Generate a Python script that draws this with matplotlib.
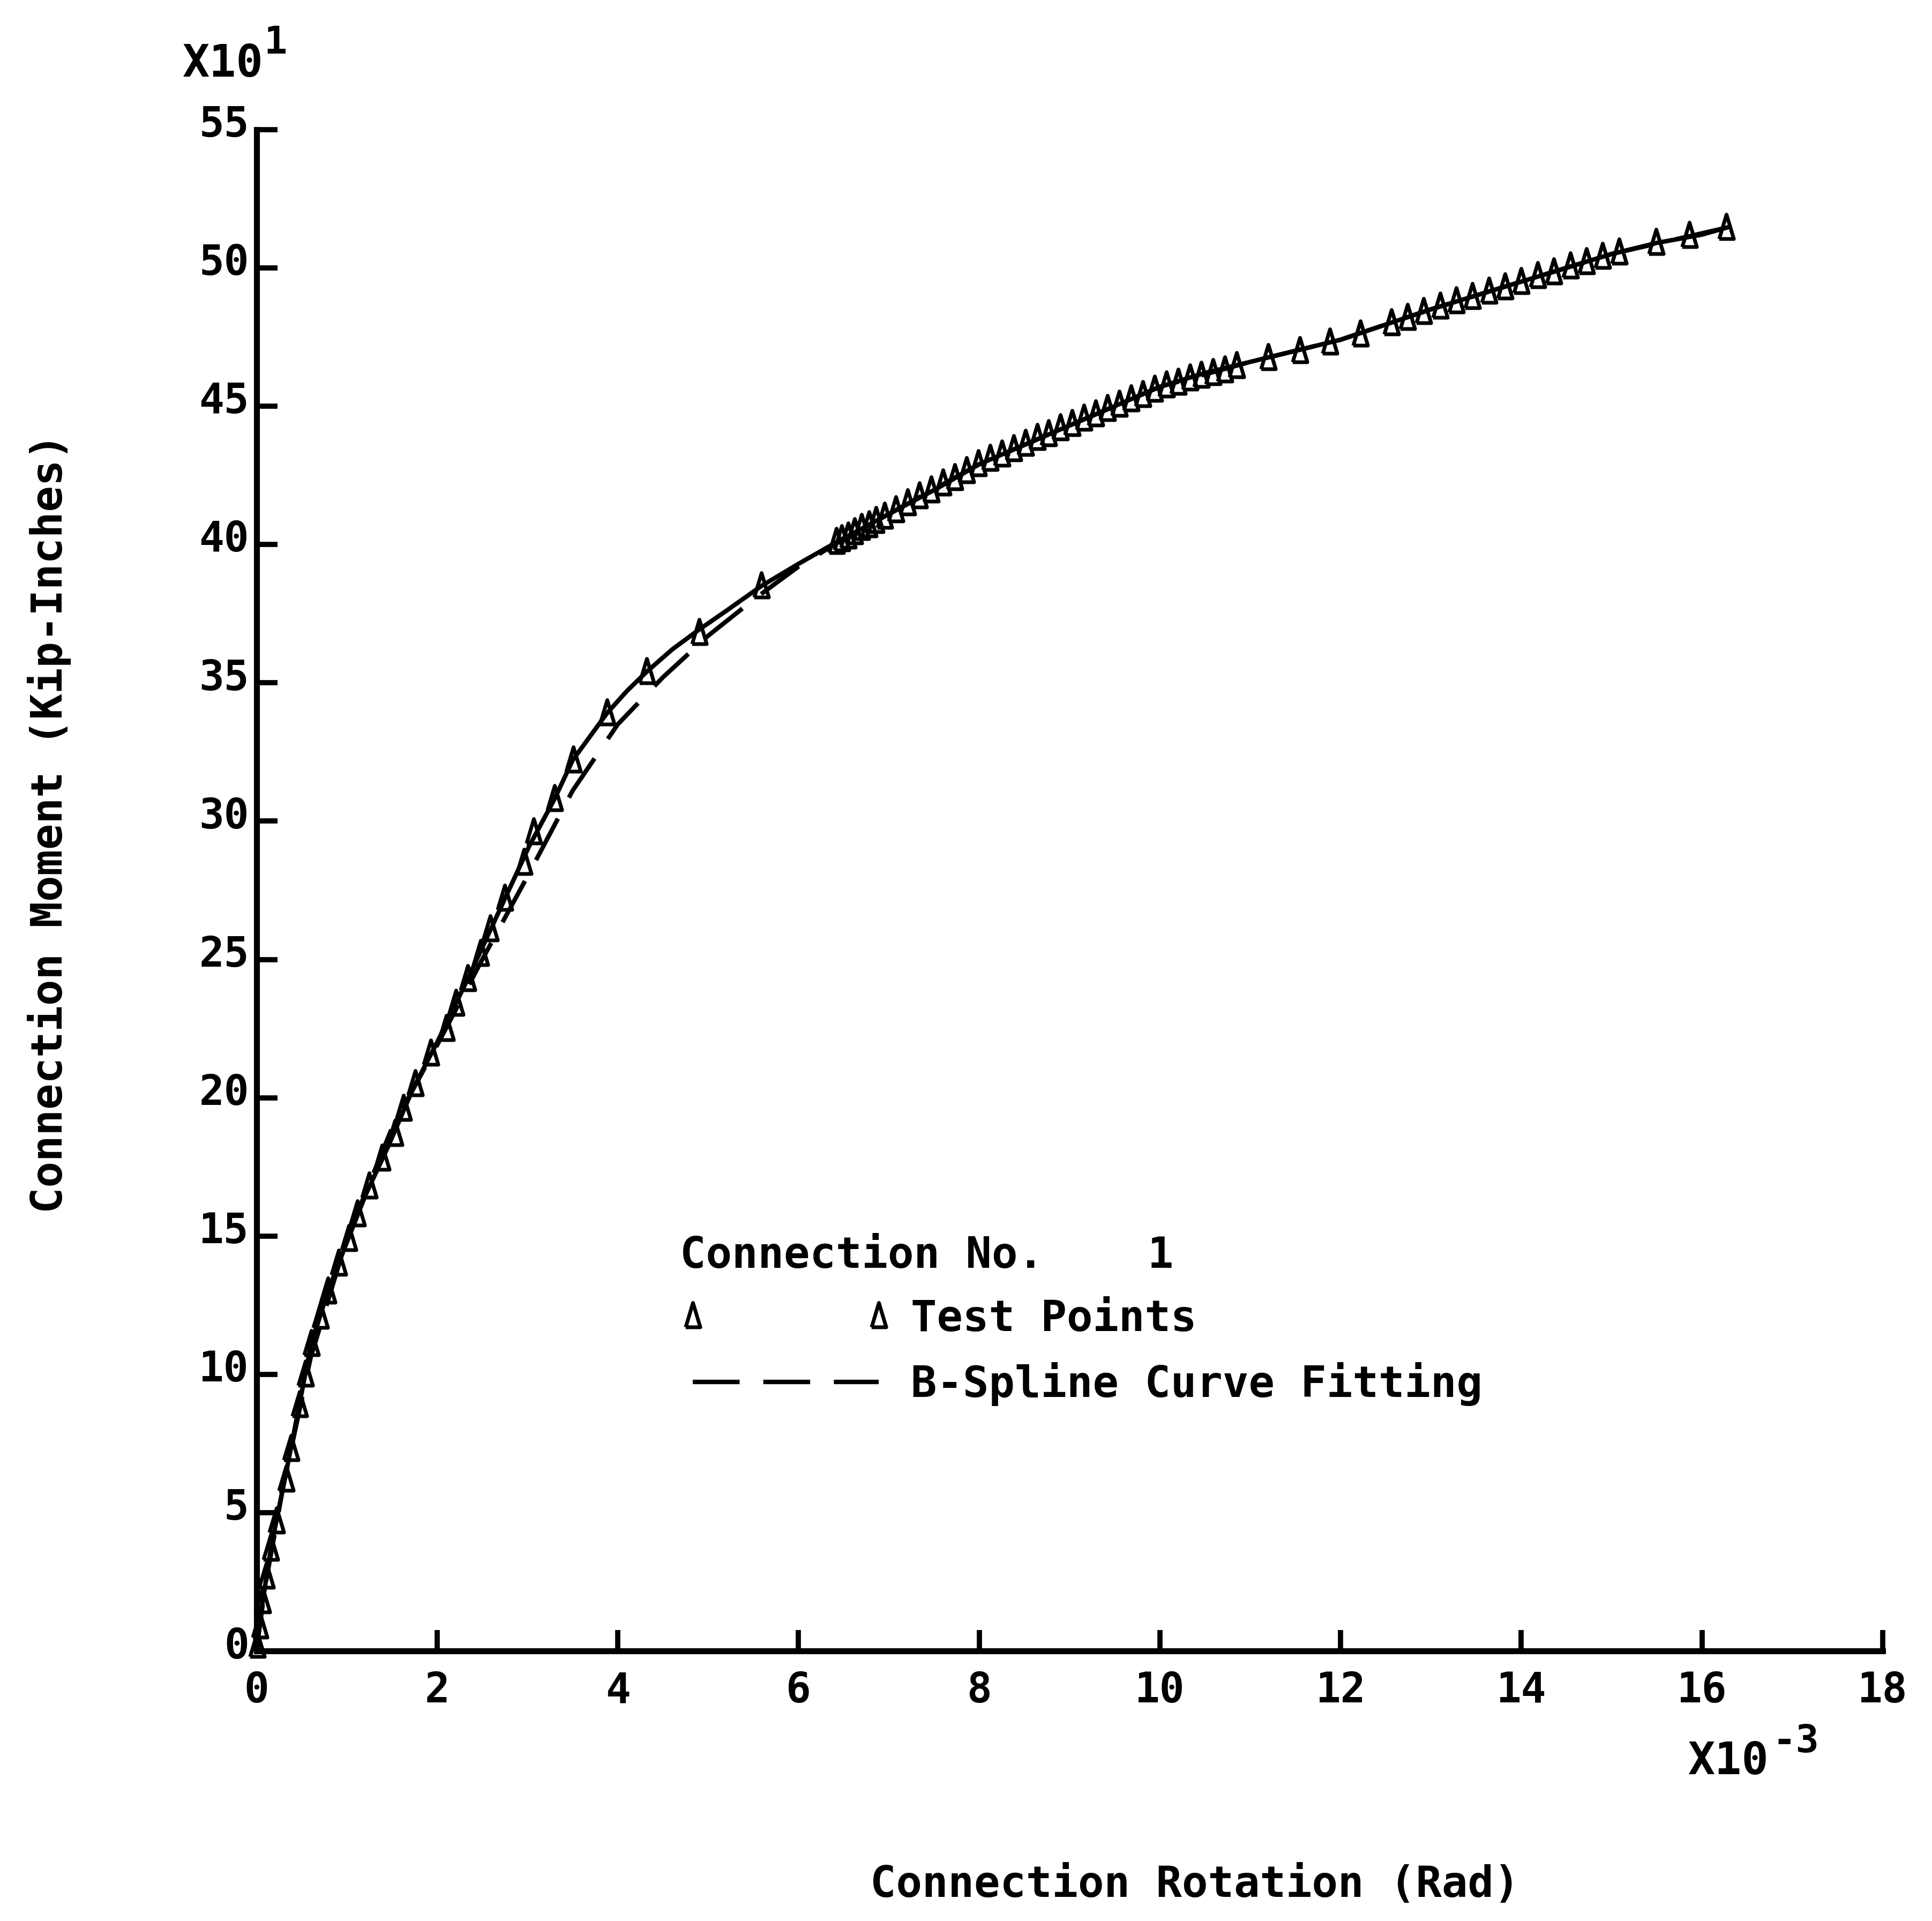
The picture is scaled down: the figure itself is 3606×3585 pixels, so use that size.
import matplotlib
matplotlib.use("Agg")
import matplotlib.pyplot as plt
import matplotlib.transforms as mtransforms

FONT = "DejaVu Sans Mono"

# Connection rotation (x10^-3 rad) and moment (x10^1 kip-in) of the test points
test_rot = [0.01, 0.04, 0.07, 0.11, 0.16, 0.22, 0.33, 0.38, 0.48, 0.54,
            0.61, 0.71, 0.79, 0.91, 1.02, 1.12, 1.25, 1.39, 1.53, 1.63,
            1.76, 1.93, 2.10, 2.21, 2.34, 2.48, 2.59, 2.75, 2.96, 3.07,
            3.30, 3.51, 3.88, 4.32, 4.90, 5.59, 6.42, 6.48, 6.55, 6.62,
            6.70, 6.78, 6.86, 6.95, 7.08, 7.21, 7.34, 7.47, 7.60, 7.73,
            7.86, 7.99, 8.12, 8.25, 8.38, 8.51, 8.64, 8.77, 8.90, 9.03,
            9.16, 9.29, 9.42, 9.55, 9.68, 9.81, 9.94, 10.07, 10.20, 10.33,
            10.46, 10.59, 10.72, 10.85, 11.20, 11.55, 11.88, 12.22, 12.56, 12.74,
            12.92, 13.10, 13.28, 13.46, 13.64, 13.82, 14.00, 14.18, 14.36, 14.54,
            14.72, 14.90, 15.08, 15.49, 15.86, 16.27]
test_mom = [0.2, 0.9, 1.8, 2.7, 3.7, 4.7, 6.2, 7.3, 8.9, 10.0,
            11.1, 12.1, 13.0, 14.0, 14.9, 15.8, 16.8, 17.8, 18.7, 19.6,
            20.5, 21.6, 22.5, 23.4, 24.3, 25.2, 26.1, 27.2, 28.5, 29.6,
            30.8, 32.2, 33.9, 35.4, 36.8, 38.5, 40.1, 40.2, 40.3, 40.45,
            40.6, 40.7, 40.85, 41.0, 41.25, 41.5, 41.75, 41.95, 42.2, 42.4,
            42.65, 42.9, 43.1, 43.25, 43.45, 43.65, 43.85, 44.0, 44.2, 44.35,
            44.55, 44.7, 44.9, 45.05, 45.25, 45.4, 45.6, 45.75, 45.85, 46.0,
            46.1, 46.2, 46.3, 46.45, 46.75, 47.0, 47.3, 47.6, 48.0, 48.2,
            48.4, 48.6, 48.8, 48.95, 49.15, 49.3, 49.5, 49.7, 49.85, 50.05,
            50.2, 50.4, 50.55, 50.9, 51.15, 51.45]

# measured (solid) curve through the test data
curve_rot = [0.0, 0.07, 0.16, 0.38, 0.6, 0.78, 0.98, 1.21, 1.46, 1.73, 2.0, 2.34,
             2.68, 3.02, 3.3, 3.5, 3.88, 4.1, 4.32, 4.6, 4.89, 5.2, 5.59, 6.0, 6.43,
             7.0, 7.52, 8.0, 8.5, 9.0, 9.5, 10.0, 10.5, 11.0, 11.5, 12.0, 12.5, 13.0,
             13.5, 14.0, 14.5, 15.0, 15.5, 16.0, 16.27]
curve_mom = [0.0, 1.8, 3.7, 7.3, 11.0, 12.9, 14.6, 16.5, 18.25, 20.3, 22.0, 24.3,
             26.7, 29.1, 30.8, 32.2, 33.9, 34.7, 35.4, 36.2, 36.9, 37.6, 38.5, 39.3, 40.1,
             41.1, 42.0, 42.9, 43.6, 44.3, 45.0, 45.7, 46.2, 46.6, 47.0, 47.4, 47.95, 48.5,
             49.0, 49.5, 50.0, 50.5, 50.9, 51.2, 51.45]

# B-spline fit
spline_rot = [0.0, 0.1, 0.3, 0.6, 1.0, 1.5, 2.0, 2.5, 3.0, 3.5, 4.0, 4.5, 5.0,
              5.5, 6.0, 6.5, 7.0, 8.0, 9.0, 10.0, 11.0, 12.0, 13.0, 14.0, 15.0, 16.27]
spline_mom = [0.0, 2.4, 6.0, 10.6, 14.9, 18.9, 21.9, 25.0, 28.0, 31.1, 33.5, 35.2, 36.7,
              38.0, 39.2, 40.2, 41.1, 42.9, 44.3, 45.7, 46.6, 47.4, 48.5, 49.5, 50.5, 51.45]

x_ticks = list(range(0, 19, 2))
y_ticks = list(range(0, 56, 5))

# narrow plotter-style triangle
tri = [(-0.3, -0.45), (0.3, -0.45), (0.0, 0.55), (-0.3, -0.45)]

fig = plt.figure(figsize=(36.06, 35.85), dpi=100)
ax = fig.add_axes([0.1327, 0.1405, 0.8418, 0.7921])

ax.plot(curve_rot, curve_mom, color="black", lw=6, zorder=3, clip_on=False)
ax.plot(test_rot, test_mom, ls="none", marker=tri, ms=36, mfc="none",
        mec="black", mew=5, zorder=4, clip_on=False, label="Test Points")
ax.plot(spline_rot, spline_mom, color="black", lw=6, dashes=(10.5, 5.3),
        zorder=2, clip_on=False, label="B-Spline Curve Fitting")

ax.set_xlim(0, 18)
ax.set_ylim(0, 55)
ax.set_xticks(x_ticks)
ax.set_yticks(y_ticks)
ax.set_xticklabels([str(v) for v in x_ticks], fontfamily=FONT, fontsize=56, fontweight="bold")
ax.set_yticklabels([str(v) for v in y_ticks], fontfamily=FONT, fontsize=56, fontweight="bold")
ax.tick_params(axis="both", direction="in", length=28, width=7)
ax.tick_params(axis="x", pad=26)
ax.tick_params(axis="y", pad=10)

# y labels sit slightly above their ticks
up = mtransforms.ScaledTranslation(0, 12 / 72, fig.dpi_scale_trans)
for lab in ax.get_yticklabels():
    lab.set_transform(lab.get_transform() + up)

for side in ("top", "right"):
    ax.spines[side].set_visible(False)
for side in ("left", "bottom"):
    ax.spines[side].set_linewidth(8)

# --- axis titles and multipliers ------------------------------------------
fig.text(0.0255, 0.5715, "Connection Moment (Kip-Inches)", rotation=90,
         ha="center", va="center", fontfamily=FONT, fontsize=58, fontweight="bold")
fig.text(0.6186, 0.0186, "Connection Rotation (Rad)",
         ha="center", va="center", fontfamily=FONT, fontsize=58, fontweight="bold")

fig.text(0.0944, 0.960, "X10", ha="left", va="baseline", fontfamily=FONT,
         fontsize=60, fontweight="bold")
fig.text(0.1365, 0.972, "1", ha="left", va="baseline", fontfamily=FONT,
         fontsize=52, fontweight="bold")
fig.text(0.8737, 0.0763, "X10", ha="left", va="baseline", fontfamily=FONT,
         fontsize=60, fontweight="bold")
fig.text(0.9175, 0.088, "-3", ha="left", va="baseline", fontfamily=FONT,
         fontsize=52, fontweight="bold")

# --- legend ---------------------------------------------------------------
leg = ax.legend(loc="upper left", bbox_to_anchor=(0.352, 0.357),
                bbox_transform=fig.transFigure, frameon=False, numpoints=2,
                handlelength=4.9, handletextpad=0.45, labelspacing=0.5,
                borderpad=0, borderaxespad=0, alignment="left",
                title="Connection No.    1",
                prop={"family": FONT, "size": 58, "weight": "bold"},
                title_fontproperties={"family": FONT, "size": 58, "weight": "bold"})

fig.savefig("out.png", dpi=100)
